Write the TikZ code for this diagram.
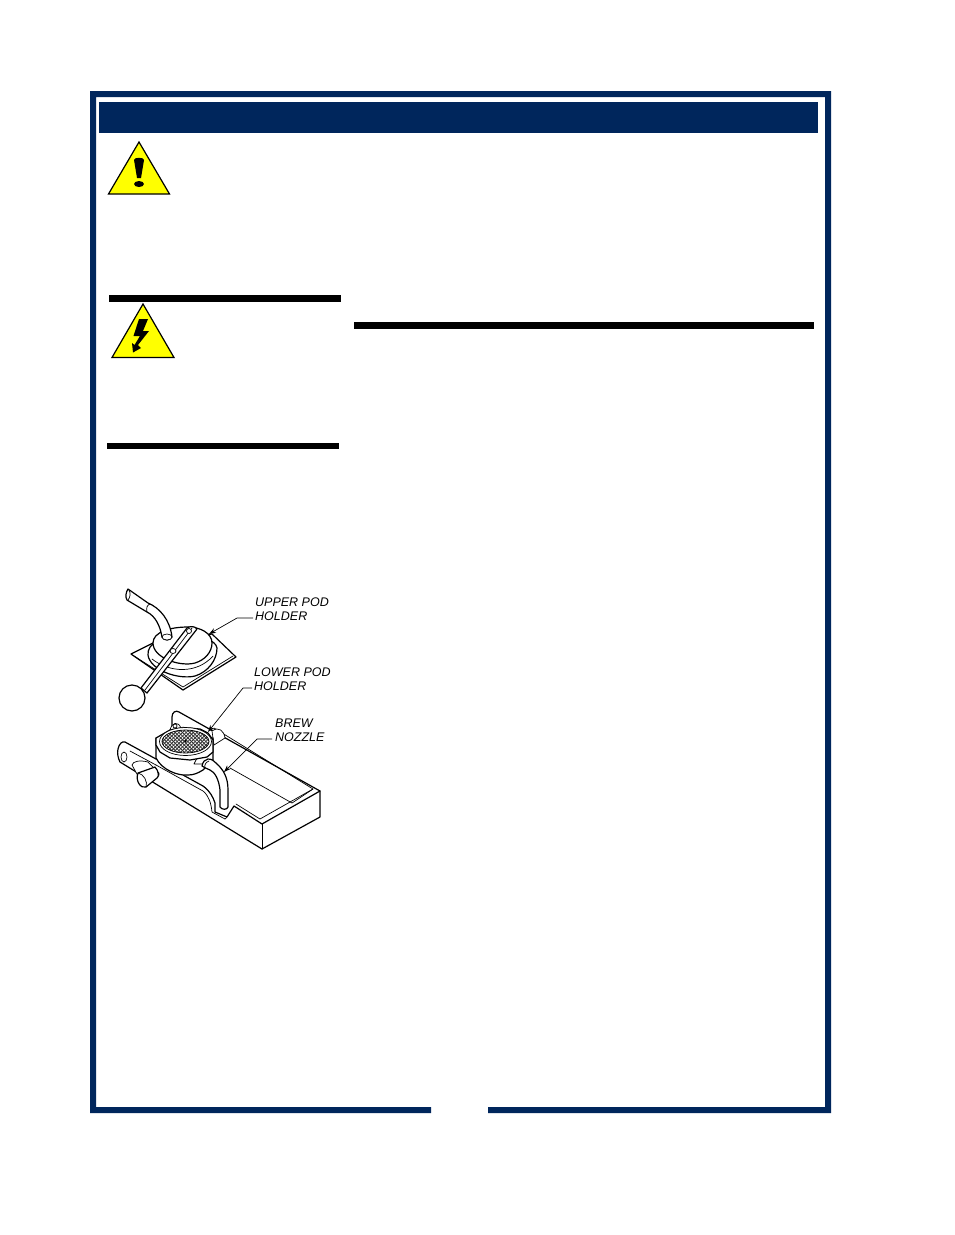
\documentclass[tikz,border=0pt]{standalone}
\usepackage{fontspec}
\setmainfont{Liberation Sans}
\usetikzlibrary{arrows.meta}
\definecolor{navy}{RGB}{0,38,92}
\definecolor{warn}{RGB}{255,255,0}
\tikzset{
 ink/.style={line width=1.2pt,line join=round,line cap=round},
 thin/.style={line width=.7pt,line join=round,line cap=round},
 lead/.style={line width=.7pt,-{Stealth[length=7pt,width=5pt]}},
 lab/.style={font=\itshape\fontsize{12.5}{14}\selectfont,align=left,anchor=north west,inner sep=0pt},
 bar/.style={fill=black,draw=none},
 tri/.style={draw=black,line width=1.2pt,fill=warn,line join=miter}
}
\begin{document}
\begin{tikzpicture}[x=1pt,y=-1pt]
\useasboundingbox (0,0) rectangle (954,1235);
\fill[white] (0,0) rectangle (954,1235);
% frame
\fill[navy] (431,1113) -- (90,1113) -- (90,91) -- (831,91) -- (831,1113) -- (488,1113) -- (488,1107) -- (825,1107) -- (825,97) -- (96,97) -- (96,1107) -- (431,1107) -- cycle;
\fill[navy] (99,102) rectangle (818,133);
% bars
\fill[bar] (109,295) rectangle (341,302);
\fill[bar] (107,443) rectangle (339,449);
\fill[bar] (354,322) rectangle (814,329);
% warning triangles
\draw[tri] (139,142) -- (108.5,194) -- (169.5,194) -- cycle;
\fill[black] (134,160) .. controls (134,157) and (144,157) .. (144,160) -- (141,178) -- (137,178) -- cycle;
\fill[black] (139,184) ellipse (5 and 3);
\draw[tri] (143,304) -- (112,357.5) -- (174,357.5) -- cycle;
\fill[black] (139,319) -- (148,319) -- (143,331) -- (149,331) -- (138,345) -- (141,348) -- (133,352.5) -- (132,343) -- (134.5,345) -- (140,336) -- (133.5,336) -- cycle;
% --- upper pod holder ---
% plate
\draw[ink,fill=white] (131,654) -- (155,642) -- (212,634) -- (236,657) -- (183,690) -- cycle;
\draw[thin] (134,656) -- (183,687) -- (233,656);
% dome layers
\draw[ink,fill=white] (148,655) .. controls (150,670) and (178,680) .. (195,676) .. controls (208,672) and (217,660) .. (217,648) .. controls (216,640) and (200,635) .. (180,636) .. controls (162,637) and (147,643) .. (148,655) -- cycle;
\draw[thin] (152,659) .. controls (170,673) and (197,674) .. (213,656);
\draw[ink,fill=white] (153,643) .. controls (153,658) and (180,667) .. (195,663) .. controls (205,660) and (212,652) .. (212,643) .. controls (212,633) and (200,627) .. (188,627) .. controls (170,627) and (153,632) .. (153,643) -- cycle;
% hose
\draw[ink,fill=white] (128,589) -- (148,603) .. controls (160,608) and (170,620) .. (172,637) .. controls (170,641) and (164,641) .. (162,637) .. controls (160,625) and (155,616) .. (147,612) -- (127,600) .. controls (125,597) and (126,592) .. (128,589) -- cycle;
\draw[thin] (147,612) .. controls (146,608) and (147,605) .. (150,604);
\draw[thin] (129,590) .. controls (131,593) and (130,598) .. (128,600);
\draw[thin,fill=white] (167,637) ellipse (5 and 3);
% lever
\draw[ink,fill=white] (141,688) -- (187,628) .. controls (190,626) and (195,626) .. (197,629) -- (147,693) -- cycle;
\draw[thin] (145,690) -- (192,628);
\draw[thin,fill=white] (189,631) circle (2.5);
\draw[thin,fill=white] (173,651) ellipse (3 and 2.5);
\draw[ink,fill=white] (132,698) circle (13);
% labels upper
\node[lab] (upper) at (255,598) {UPPER POD\\HOLDER};
\coordinate (ua) at (237,618);
\coordinate (ub) at (209,634);
\draw[lead] (253,618) -- (ua) -- (ub);
% --- lower tray ---
\fill[white] (172,717) -- (178,711) -- (320,791) -- (320,817) -- (262,849) -- (120,762) -- (118,750) -- (123,742) -- cycle;
% back wing
\draw[ink] (172,732) -- (172,717) .. controls (172,712) and (176,710) .. (179,712) -- (320,791) -- (320,817) -- (262,849) -- (120,762) .. controls (118,758) and (117,753) .. (118,749) .. controls (119,744) and (122,741) .. (125,742) -- (156,759);
\draw[ink] (183,775) -- (203,786) .. controls (210,791) and (213,797) .. (215,803) -- (215,812) -- (227,817) -- (234,806) -- (262,824) -- (320,791);
\draw[thin] (262,824) -- (262,849);
% inner walls and rim
\draw[thin] (214,728) -- (313,789) -- (260,819) -- (236,804);
\draw[thin] (230,768) -- (292,803) -- (313,789);
% flange inner line
\draw[thin] (130,751) -- (156,765);
\draw[thin] (156,765) -- (203,791) .. controls (209,796) and (211,803) .. (212,812) -- (225,819) -- (227,817);
% hole and cylinder on the flange
\draw[thin,fill=white] (124,757) ellipse (3 and 5);
\draw[thin,fill=white] (132,765) .. controls (133,761) and (140,760) .. (148,762) -- (159,773) .. controls (160,776) and (157,778) .. (152,779) -- (143,785) -- cycle;
\draw[ink,fill=white] (138,773) -- (155,767) .. controls (159,771) and (159,777) .. (157,778) -- (146,787) .. controls (141,789) and (135,781) .. (138,773) -- cycle;
\draw[thin] (138,773) .. controls (144,774) and (148,782) .. (146,787);
% lugs behind the pod holder
\draw[thin,fill=white] (170,730) .. controls (172,722) and (178,721) .. (181,728) -- cycle;
\draw[thin] (175,726) circle (2);
\draw[thin,fill=white] (212,731) .. controls (219,726) and (224,731) .. (225,738) -- (214,745) -- cycle;
% lower pod holder cylinder
\draw[ink,fill=white] (156,738) -- (156,758) .. controls (162,770) and (178,776) .. (188,775) .. controls (194,775) and (198,773) .. (203,770) -- (213,760) -- (213,738) -- cycle;
\draw[thin] (197,758) -- (194,764) -- (203,764) -- (213,760);
\draw[ink,fill=white] (156,738) -- (170,730) -- (183,727.5) -- (200,729) -- (208,733) -- (213,740) -- (213,752) -- (207,757) -- (190,760) -- (170,758) -- (160,752) -- (156,745) -- cycle;
\draw[thin,fill=white] (185.5,741.5) ellipse (26 and 14);
\begin{scope}
\clip (185.5,741.5) ellipse (23.5 and 11.5);
\foreach \i in {-40,-37,...,40} {
 \draw[line width=.8pt,black!80] (185.5+\i*1.2-30,741.5-30) -- (185.5+\i*1.2+30,741.5+30);
 \draw[line width=.8pt,black!80] (185.5+\i*1.2+30,741.5-30) -- (185.5+\i*1.2-30,741.5+30);
}
\end{scope}
\draw[thin] (185.5,741.5) ellipse (23.5 and 11.5);
\fill[black] (185.5,741) circle (1.3);
% nozzle
\draw[ink,fill=white] (202,766) .. controls (203,761) and (205,760) .. (208,759) .. controls (212,759) and (214,761) .. (216,763) .. controls (224,770) and (228,778) .. (228,790) -- (228,807) .. controls (227,810) and (222,810) .. (220,807) -- (220,790) .. controls (219,780) and (215,772) .. (210,770) .. controls (207,768) and (204,768) .. (202,766) -- cycle;
\draw[thin] (205,768) .. controls (204,765) and (206,762) .. (209,761);
% labels lower
\node[lab] (lower) at (254,668) {LOWER POD\\HOLDER};
\coordinate (la) at (243,688);
\coordinate (lb) at (208,732);
\draw[lead] (252,688) -- (la) -- (lb);
\node[lab] (brew) at (275,719) {BREW\\NOZZLE};
\coordinate (ba) at (257,739);
\coordinate (bb) at (224,772);
\draw[lead] (272,739) -- (ba) -- (bb);
\end{tikzpicture}
\end{document}
